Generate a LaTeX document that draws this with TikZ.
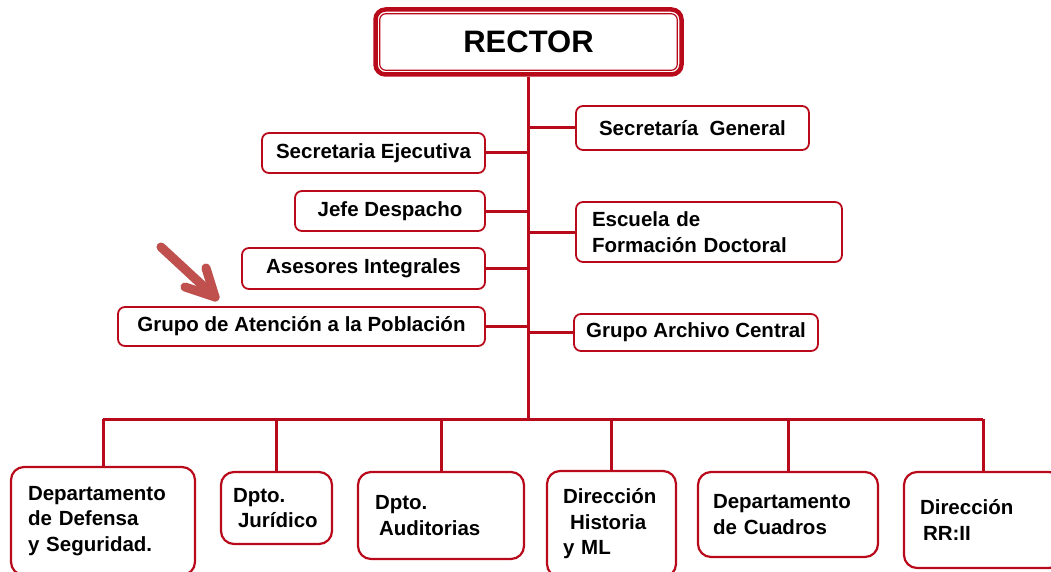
\documentclass[tikz,border=0pt]{standalone}
\usepackage{fontspec}
\setmainfont{Liberation Sans}
\usepackage{tikz}
\usetikzlibrary{arrows.meta}
\definecolor{orgred}{RGB}{184,10,26}
\definecolor{pointred}{RGB}{192,80,77}
\newcommand\unitfont{\fontsize{20.5}{25.5}\selectfont\bfseries}
\tikzset{
  unit/.style={draw=orgred,line width=1.8pt,rounded corners=7pt,fill=white,font=\unitfont,inner sep=0pt},
  dept/.style={unit,rounded corners=13pt,line width=2.2pt,align=left},
  link/.style={draw=orgred,line width=3pt},
  pointer/.style={line width=9pt,line cap=round,line join=round}
}

\begin{document}
\begin{tikzpicture}[x=1pt,y=-1pt,>=Stealth]
  \useasboundingbox (0,0) rectangle (1051,572);

  % top
  \node[unit,line width=4.5pt,rounded corners=10pt,minimum width=306pt,minimum height=65pt,
        font=\fontsize{31}{36}\selectfont\bfseries] (rector) at (528.5,42) {RECTOR};
  \draw[orgred,line width=1.2pt,rounded corners=6pt]
    ([shift={(6.5,6.5)}]rector.north west) rectangle ([shift={(-6.5,-6.5)}]rector.south east);

  % staff units
  \node[unit,minimum width=233pt,minimum height=44pt] (secgen) at (692.5,128) {Secretaría\ \ General};
  \node[unit,minimum width=223pt,minimum height=40pt] (secej) at (373.5,153) {Secretaria Ejecutiva};
  \node[unit,minimum width=190pt,minimum height=40pt] (jefe) at (390,211) {Jefe Despacho};
  \node[unit,align=left,inner xsep=16pt,text width=234pt,minimum height=60pt] (escuela) at (709,232)
    {Escuela de\\Formación Doctoral};
  \node[unit,minimum width=243pt,minimum height=41pt] (asesores) at (363.5,268.5) {Asesores Integrales};
  \node[unit,minimum width=367pt,minimum height=39pt] (grupo) at (301.5,326.5) {Grupo de Atención a la Población};
  \node[unit,minimum width=244pt,minimum height=37pt] (archivo) at (696,332.5) {Grupo Archivo Central};

  % departments
  \node[dept,inner xsep=17pt,text width=150pt,minimum height=108pt] (defensa) at (103,521)
    {Departamento\\de Defensa\\y Seguridad.};
  \node[dept,inner xsep=12pt,text width=87pt,minimum height=72pt] (juridico) at (276.5,508)
    {Dpto.\\\hspace*{5pt}Jurídico};
  \node[dept,inner xsep=17pt,text width=132pt,minimum height=87pt] (auditorias) at (441,515.5)
    {Dpto.\\\hspace*{4pt}Auditorias};
  \node[dept,inner xsep=16pt,text width=97pt,minimum height=106pt] (historia) at (611.5,524)
    {Dirección\\\hspace*{7pt}Historia\\y ML};
  \node[dept,inner xsep=15pt,text width=150pt,minimum height=85pt] (cuadros) at (788,514.5)
    {Departamento\\de Cuadros};
  \node[dept,inner xsep=16pt,text width=126pt,minimum height=96pt] (rrii) at (983,520)
    {Dirección\\\hspace*{3pt}RR:II};

  % connectors
  \coordinate (bus) at (rector.south |- 0,419);
  \draw[link] (rector.south) -- (bus);
  \foreach \u in {secej,jefe,asesores,grupo}
    \draw[link] (\u.east) -- (\u.east -| bus);
  \foreach \u in {secgen,escuela,archivo}
    \draw[link] (\u.west) -- (\u.west -| bus);
  \draw[link] (defensa.north |- bus) -- (rrii.north |- bus);
  \foreach \u in {defensa,juridico,auditorias,historia,cuadros,rrii}
    \draw[link] (\u.north) -- (\u.north |- bus);

  % pointer
  \coordinate (tail) at (161,247);
  \coordinate (tip) at (215,297);
  \begin{scope}[shift={(2,3)},draw=black,opacity=.18]
    \draw[pointer] (tail) -- (tip);
    \draw[pointer] ([shift={(-30,-10)}]tip) -- (tip) -- ([shift={(-9,-29)}]tip);
  \end{scope}
  \draw[pointer,pointred] (tail) -- (tip);
  \draw[pointer,pointred] ([shift={(-30,-10)}]tip) -- (tip) -- ([shift={(-9,-29)}]tip);
\end{tikzpicture}
\end{document}
